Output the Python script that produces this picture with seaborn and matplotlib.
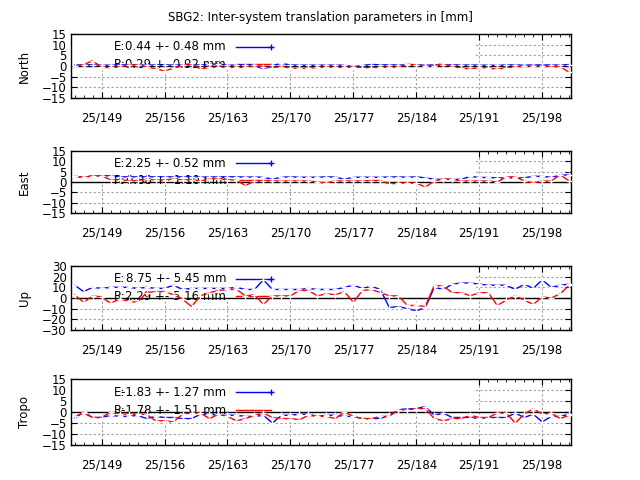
import numpy as np
import pandas as pd
import matplotlib
matplotlib.use("Agg")
import matplotlib.pyplot as plt
import seaborn as sns
from matplotlib.patches import Rectangle
from matplotlib.lines import Line2D

days = list(range(146, 202))
tick_days = [149, 156, 163, 170, 177, 184, 191, 198]
tick_labels = ["25/%d" % d for d in tick_days]

north_E = [0.5,0.5,0.6,0.4,0.4,0.6,0.5,0.5,0.4,0.5,0.4,0.5,0.4,0.6,0.5,0.8,1.0,0.4,0.4,0.6,0.4,-1.5,0.3,1.2,0.5,0.4,0.4,0.4,0.4,0.4,0.4,-0.5,0.3,0.7,0.6,0.5,0.5,0.5,0.5,0.4,0.5,0.4,0.6,0.4,0.5,0.4,0.4,0.3,0.5,0.5,0.4,0.5,0.5,0.5,0.4,0.7]
north_R = [0.0,0.6,2.5,-0.7,-0.7,-0.5,0.5,0.6,-0.5,-1.2,-2.4,-1.0,0.3,1.2,-1.5,-0.6,-0.5,-0.6,-0.7,-0.6,0.5,-0.5,-0.8,-0.3,-1.0,-1.0,-1.0,-0.7,-0.5,-0.6,-0.7,-0.5,-0.8,-0.8,-0.6,-0.6,-0.5,0.9,0.5,0.0,0.2,1.3,-0.5,-0.8,-1.5,-0.6,-1.0,-1.5,-0.8,-0.5,0.0,0.0,0.2,-0.3,-0.3,-3.0]
east_E = [2.8,2.2,3.0,3.0,3.0,2.5,2.5,2.5,2.5,2.5,2.5,2.5,2.5,2.5,2.4,2.4,2.5,2.5,2.5,2.4,2.4,2.3,1.3,2.3,2.5,2.3,2.3,2.3,2.5,2.4,1.3,2.3,2.3,2.3,2.3,2.4,2.5,2.3,2.5,2.0,1.3,1.3,1.3,1.3,2.7,2.2,2.2,2.0,2.0,2.0,2.0,2.8,2.7,2.3,3.2,3.5]
east_R = [2.8,2.3,3.0,3.0,1.0,1.0,0.7,0.7,1.3,1.0,1.0,1.5,1.0,1.2,0.5,1.5,1.5,1.2,0.8,-1.7,0.5,0.5,0.5,0.5,0.5,0.5,0.5,0.0,-0.5,0.5,0.5,0.5,0.5,0.7,0.7,-1.0,-0.5,-0.5,-0.5,-2.5,0.5,1.5,1.3,0.5,0.5,0.5,0.5,0.0,2.5,2.5,0.5,-0.5,0.5,0.5,3.5,0.5]
up_E = [12,6,10,9,10,10,10,9,10,9,9,12,8,9,9,9,9,9,10,8,8,17,8,8,8,8,9,8,8,8,10,12,9,11,8,-9,-8,-10,-12,-9,10,8,13,14,14,13,12,12,12,8,13,9,17,10,12,13]
up_R = [3,-4,2,1,-5,-1,-3,-4,5,6,6,3,-1,-8,2,5,7,8,8,2,3,-6,2,2,2,7,7,2,4,3,6,-4,7,8,5,2,2,-7,-7,-8,12,11,5,5,2,5,5,-7,-2,2,-2,-6,1,0,4,12]
tropo_E = [-3,0,-2.5,-2.5,-1.5,-2,-2,-1.5,-3,-2,-2.5,-2.5,-3,-3,-1,-1,-1.5,-1.5,-1.5,-2,-2,-1.5,-5,-1.5,-1.5,-1,-1,-2,-1.5,-1.5,-2,-2,-3,-3,-3,-1.5,1,1.5,1.5,2.5,-1.5,-0.5,-2.5,-2.5,-2.5,-3,-2.5,-2.5,-2.5,-0.5,-2.5,-1,-4.5,-2,-2,-1]
tropo_R = [-2,-0.5,-2.5,-2.5,0,-1,-1,-1,-1,-4,-4,-4.5,-1,-0.5,-0.5,-3,-1,-2,-4,-3,-1.5,-0.5,-2.5,-3,-3,-3.5,-1.5,-2,-2,-3,0,-2,-3,-3,-2,-2,1,1,1.5,1.5,-3,-4,-3,-3,-1.5,-2.5,-2.5,-0.5,-0.5,-5,-1,1.5,-1,-0.5,-3,-1.5]

panels = [
    ("North", north_E, north_R, "0.44 +- 0.48 mm", "0.29 +- 0.92 mm", 15, 5),
    ("East", east_E, east_R, "2.25 +- 0.52 mm", "0.88 +- 1.10 mm", 15, 5),
    ("Up", up_E, up_R, "8.75 +- 5.45 mm", "2.29 +- 5.16 mm", 30, 10),
    ("Tropo", tropo_E, tropo_R, "-1.83 +- 1.27 mm", "-1.78 +- 1.51 mm", 15, 5),
]

fig = plt.figure(figsize=(6.4, 4.8), dpi=100)
W, H = 640, 480
tops = [34, 151, 266, 379]
bots = [98, 213, 330, 445]
x0, x1 = 71, 571
FS = 8.5
fig.text(0.5, 1 - 17 / H, "SBG2: Inter-system translation parameters in [mm]",
         ha="center", va="center", fontsize=FS)

for (name, e, r, etxt, rtxt, lim, step), t, b in zip(panels, tops, bots):
    ax = fig.add_axes([x0 / W, 1 - b / H, (x1 - x0) / W, (b - t) / H])
    df = pd.DataFrame({"day": days * 2, "val": e + r,
                       "s": ["E"] * len(days) + ["R"] * len(days)})
    sns.lineplot(data=df, x="day", y="val", hue="s", palette={"E": "#0000ff", "R": "#ff0000"},
                 style="s", dashes=False, markers={"E": "+", "R": "+"},
                 markersize=4, markeredgewidth=1, linewidth=1,
                 legend=False, ax=ax, zorder=3)
    ax.set_xlim(145.6, 201.2)
    ax.set_ylim(-lim, lim)
    ax.set_yticks(np.arange(-lim, lim + 1, step))
    ax.set_xticks(tick_days)
    ax.set_xticklabels(tick_labels)
    ax.set_xticks(days, minor=True)
    ax.grid(True, which="major", color="#a0a0a0", linestyle=(0, (2, 2)), linewidth=0.8, zorder=0)
    ax.set_axisbelow(True)
    ax.add_patch(Rectangle((0, 0.47), 0.805, 0.53, transform=ax.transAxes,
                           facecolor="white", edgecolor="none", zorder=1))
    ax.axhline(0, color="black", linewidth=1, zorder=2)
    ax.tick_params(direction="in", top=True, right=True, labelsize=FS, length=4, pad=10)
    ax.tick_params(axis="y", pad=3)
    ax.tick_params(which="minor", direction="in", top=True, length=2)
    ax.set_xlabel("")
    ax.set_ylabel(name, fontsize=FS)
    ax.yaxis.set_label_coords(-0.08, 0.5)
    for sp in ax.spines.values():
        sp.set_linewidth(1)
    ax.text(0.085, 0.80, "E:", transform=ax.transAxes, fontsize=FS, va="center", zorder=2)
    ax.text(0.31, 0.80, etxt, transform=ax.transAxes, fontsize=FS, va="center", ha="right", zorder=2)
    ax.text(0.085, 0.53, "R:", transform=ax.transAxes, fontsize=FS, va="center", zorder=2)
    ax.text(0.31, 0.53, rtxt, transform=ax.transAxes, fontsize=FS, va="center", ha="right", zorder=2)
    ax.add_line(Line2D([0.33, 0.4], [0.80, 0.80], transform=ax.transAxes, color="#0000ff",
                       marker="+", markevery=[1], markersize=4, linewidth=1, zorder=2))
    ax.add_line(Line2D([0.33, 0.4], [0.53, 0.53], transform=ax.transAxes, color="#ff0000",
                       linewidth=1, zorder=2))

fig.savefig("out.png", dpi=100)
